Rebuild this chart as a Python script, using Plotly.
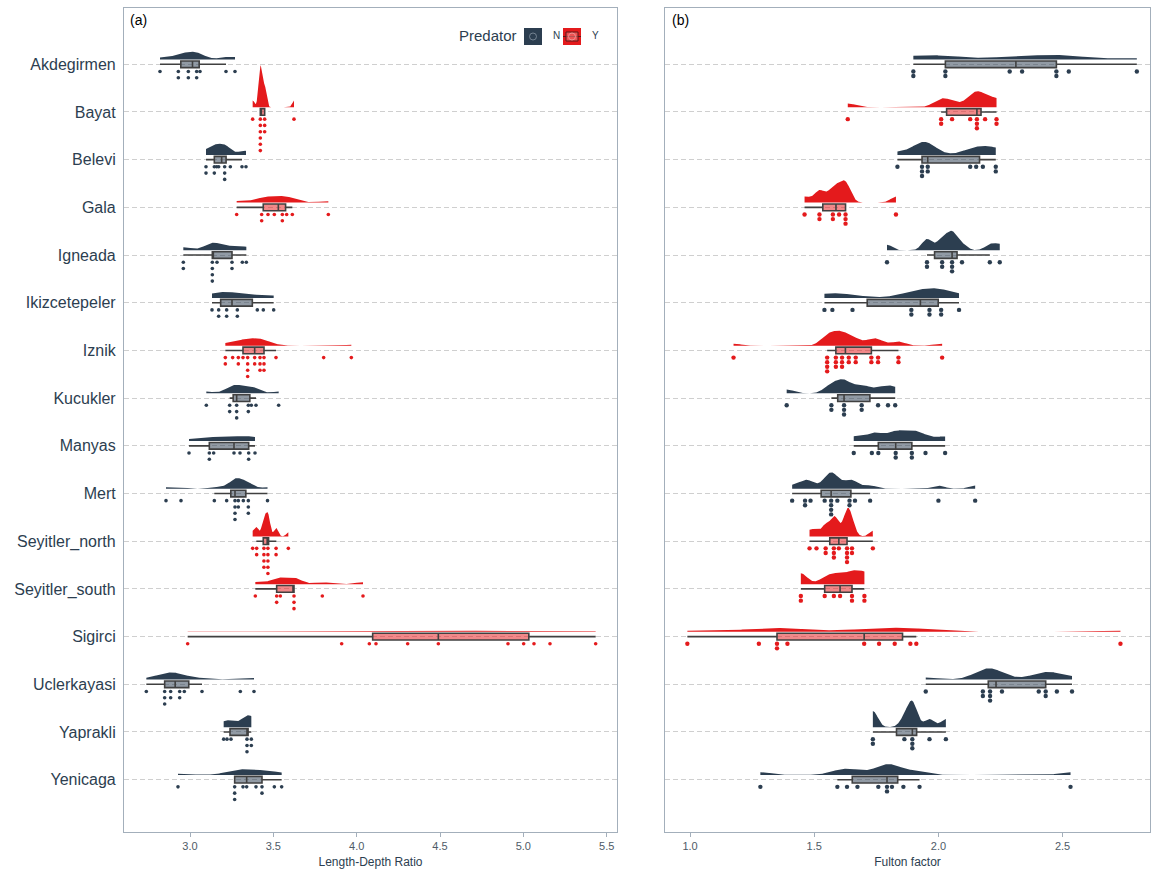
import numpy as np
import plotly.graph_objects as go

# ---------------------------------------------------------------- data
LAKES = ["Akdegirmen", "Bayat", "Belevi", "Gala", "Igneada", "Ikizcetepeler",
         "Iznik", "Kucukler", "Manyas", "Mert", "Seyitler_north",
         "Seyitler_south", "Sigirci", "Uclerkayasi", "Yaprakli", "Yenicaga"]
PREDATOR = ["N", "Y", "N", "Y", "N", "N", "Y", "N", "N", "N", "Y", "Y", "Y",
            "N", "N", "N"]

# Length-depth ratio, one list per lake
LD_AKDEGIRMEN = [2.82, 2.93, 2.93, 2.99, 2.99, 3.04, 3.04, 3.06, 3.216, 3.27]
LD_BAYAT = [3.376, 3.422, 3.422, 3.422, 3.422, 3.422, 3.422, 3.448, 3.448,
            3.448, 3.624]
LD_BELEVI = [3.096, 3.096, 3.146, 3.146, 3.160, 3.172, 3.208, 3.208, 3.208,
             3.242, 3.312, 3.336]
LD_GALA = [3.28, 3.43, 3.43, 3.468, 3.506, 3.554, 3.554, 3.58, 3.614, 3.83]
LD_IGNEADA = [2.96, 2.96, 3.134, 3.134, 3.134, 3.134, 3.162, 3.252, 3.252,
              3.314, 3.338]
LD_IKIZCETEPELER = [3.132, 3.172, 3.172, 3.22, 3.22, 3.284, 3.284, 3.404,
                    3.44, 3.502]
LD_IZNIK = [3.212, 3.212, 3.256, 3.29, 3.29, 3.318, 3.346, 3.346, 3.346,
            3.346, 3.388, 3.388, 3.42, 3.42, 3.42, 3.444, 3.444, 3.444,
            3.516, 3.802, 3.968]
LD_KUCUKLER = [3.098, 3.238, 3.238, 3.28, 3.28, 3.28, 3.35, 3.35, 3.368,
               3.396, 3.532]
LD_MANYAS = [2.994, 3.116, 3.116, 3.142, 3.264, 3.30, 3.352, 3.352, 3.39]
LD_MERT = [2.856, 2.946, 3.146, 3.22, 3.27, 3.27, 3.27, 3.27, 3.29, 3.29,
           3.32, 3.35, 3.35, 3.35, 3.465]
LD_SEYITLER_NORTH = [3.376, 3.398, 3.402, 3.439, 3.440, 3.446, 3.448, 3.463,
                     3.466, 3.469, 3.471, 3.472, 3.515, 3.518, 3.59]
LD_SEYITLER_SOUTH = [3.392, 3.52, 3.52, 3.542, 3.624, 3.624, 3.624, 3.794,
                     4.038]
LD_SIGIRCI = [2.986, 3.91, 4.076, 4.116, 4.306, 4.49, 4.908, 5.002, 5.064,
              5.16, 5.434]
LD_UCLERKAYASI = [2.738, 2.848, 2.848, 2.848, 2.884, 2.884, 2.938, 2.938,
                  2.966, 3.072, 3.302, 3.384]
LD_YAPRAKLI = [3.202, 3.222, 3.246, 3.342, 3.342, 3.342, 3.368, 3.368]
LD_YENICAGA = [2.928, 3.268, 3.268, 3.268, 3.318, 3.34, 3.396, 3.432, 3.432,
               3.506, 3.55]

# Fulton condition factor, one list per lake
FF_AKDEGIRMEN = [1.899, 1.899, 2.028, 2.028, 2.287, 2.337, 2.475, 2.475,
                 2.525, 2.799]
FF_BAYAT = [1.635, 2.011, 2.011, 2.055, 2.128, 2.155, 2.155, 2.155, 2.188,
            2.234, 2.234]
FF_BELEVI = [1.835, 1.934, 1.934, 1.934, 1.957, 1.957, 2.128, 2.152, 2.179,
             2.231, 2.231]
FF_GALA = [1.461, 1.521, 1.521, 1.575, 1.575, 1.600, 1.626, 1.626, 1.626,
           1.829]
FF_IGNEADA = [1.793, 1.954, 1.954, 2.015, 2.015, 2.055, 2.055, 2.055, 2.095,
              2.207, 2.247]
FF_IKIZCETEPELER = [1.541, 1.573, 1.654, 1.891, 1.891, 1.964, 1.964, 2.011,
                    2.011, 2.083]
FF_IZNIK = [1.175, 1.552, 1.552, 1.552, 1.552, 1.587, 1.587, 1.587, 1.612,
            1.612, 1.612, 1.639, 1.639, 1.667, 1.667, 1.730, 1.730, 1.757,
            1.757, 1.839, 1.839, 2.015]
FF_KUCUKLER = [1.389, 1.569, 1.569, 1.62, 1.62, 1.62, 1.691, 1.691, 1.757,
               1.797, 1.826]
FF_MANYAS = [1.659, 1.732, 1.758, 1.828, 1.828, 1.893, 1.893, 1.948, 2.027]
FF_MERT = [1.411, 1.463, 1.463, 1.485, 1.542, 1.568, 1.568, 1.568, 1.568,
           1.593, 1.642, 1.642, 1.664, 1.725, 2.0, 2.148]
FF_SEYITLER_NORTH = [1.481, 1.509, 1.546, 1.546, 1.579, 1.579, 1.579, 1.599,
                     1.632, 1.632, 1.632, 1.632, 1.652, 1.652, 1.736]
FF_SEYITLER_SOUTH = [1.446, 1.446, 1.542, 1.579, 1.604, 1.652, 1.652, 1.702,
                     1.702]
FF_SIGIRCI = [0.989, 1.277, 1.35, 1.35, 1.392, 1.701, 1.761, 1.824, 1.887,
              1.911, 2.733]
FF_UCLERKAYASI = [1.949, 2.179, 2.179, 2.208, 2.208, 2.208, 2.256, 2.404,
                  2.432, 2.432, 2.477, 2.538]
FF_YAPRAKLI = [1.736, 1.736, 1.863, 1.895, 1.895, 1.895, 1.964, 2.03]
FF_YENICAGA = [1.283, 1.593, 1.632, 1.674, 1.758, 1.793, 1.793, 1.813, 1.859,
               1.924, 2.532]

LD_TICKS = [3.0, 3.5, 4.0, 4.5, 5.0, 5.5]
FF_TICKS = [1.0, 1.5, 2.0, 2.5]

LD = [LD_AKDEGIRMEN, LD_BAYAT, LD_BELEVI, LD_GALA, LD_IGNEADA,
      LD_IKIZCETEPELER, LD_IZNIK, LD_KUCUKLER, LD_MANYAS, LD_MERT,
      LD_SEYITLER_NORTH, LD_SEYITLER_SOUTH, LD_SIGIRCI, LD_UCLERKAYASI,
      LD_YAPRAKLI, LD_YENICAGA]
FF = [FF_AKDEGIRMEN, FF_BAYAT, FF_BELEVI, FF_GALA, FF_IGNEADA,
      FF_IKIZCETEPELER, FF_IZNIK, FF_KUCUKLER, FF_MANYAS, FF_MERT,
      FF_SEYITLER_NORTH, FF_SEYITLER_SOUTH, FF_SIGIRCI, FF_UCLERKAYASI,
      FF_YAPRAKLI, FF_YENICAGA]

# ---------------------------------------------------------------- style
W, H = 1157, 874
COL = {"N": "#2c3e50", "Y": "#e41a1c"}
BOX_FILL = {"N": "rgba(44,62,80,0.52)", "Y": "rgba(228,26,28,0.52)"}
FRAME = "#a3afbb"
TEXT = "#2c3e50"
FONT = "Liberation Sans, Arial, sans-serif"

N_LAKES = len(LAKES)
POS = [N_LAKES - i for i in range(N_LAKES)]     # first lake on top


# ---------------------------------------------------------------- helpers
def bw_nrd0(v):
    v = np.asarray(v, float)
    sd = v.std(ddof=1)
    q75, q25 = np.percentile(v, [75, 25])
    lo = min(sd, (q75 - q25) / 1.34)
    if lo <= 0:
        lo = sd
    return 0.9 * lo * len(v) ** -0.2


def kde(v, grid, adjust):
    v = np.asarray(v, float)
    bw = bw_nrd0(v) * adjust
    z = (grid[:, None] - v[None, :]) / bw
    return np.exp(-0.5 * z ** 2).sum(axis=1) / (len(v) * bw * np.sqrt(2 * np.pi))


def dot_bins(v, width):
    """Dot-density style binning: returns bin centres and counts."""
    v = np.sort(np.asarray(v, float))
    centres, counts = [], []
    i = 0
    while i < len(v):
        j = i
        while j < len(v) and v[j] < v[i] + width - 1e-12:
            j += 1
        grp = v[i:j]
        centres.append((grp[0] + grp[-1]) / 2)
        counts.append(len(grp))
        i = j
    return centres, counts


def box_stats(v):
    v = np.asarray(v, float)
    q1, med, q3 = np.percentile(v, [25, 50, 75])
    iqr = q3 - q1
    lo = v[v >= q1 - 1.5 * iqr - 1e-9].min()
    hi = v[v <= q3 + 1.5 * iqr + 1e-9].max()
    return q1, med, q3, lo, hi


def px_y(py):
    return 1 - py / H


def px_x(px):
    return px / W


fig = go.Figure()

PANELS = [
    dict(data=LD, xa="x", ya="y", vmax=0.88, adjust=1.0, binw=0.010,
         stack=0.132, dot=3.6),
    dict(data=FF, xa="x2", ya="y2", vmax=0.60, adjust=0.55, binw=0.012,
         stack=0.096, dot=4.4),
]

VIOLIN_NUDGE = 0.10
DOT_OFFSET = 0.15
BOX_WIDTH = 0.14

for p in PANELS:
    data = p["data"]
    grids, dens = [], []
    for v in data:
        g = np.linspace(min(v), max(v), 500)
        grids.append(g)
        dens.append(kde(v, g, p["adjust"]))
    dmax = max(d.max() for d in dens)
    scale = p["vmax"] / dmax

    # half violins (clouds)
    for i, v in enumerate(data):
        base = POS[i] + VIOLIN_NUDGE
        g, d = grids[i], dens[i]
        xs = np.concatenate([g, g[::-1]])
        ys = np.concatenate([base + d * scale, np.full(len(g), base)])
        fig.add_trace(go.Scatter(
            x=xs, y=ys, mode="lines", fill="toself",
            fillcolor=COL[PREDATOR[i]],
            line=dict(width=0, color=COL[PREDATOR[i]]),
            xaxis=p["xa"], yaxis=p["ya"], hoverinfo="skip", showlegend=False))

    # boxplots
    for i, v in enumerate(data):
        q1, med, q3, lo, hi = box_stats(v)
        fig.add_trace(go.Box(
            orientation="h", y=[POS[i]], q1=[q1], median=[med], q3=[q3],
            lowerfence=[lo], upperfence=[hi], width=BOX_WIDTH,
            whiskerwidth=0, boxpoints=False,
            fillcolor=BOX_FILL[PREDATOR[i]],
            line=dict(color="#404040", width=1.6),
            xaxis=p["xa"], yaxis=p["ya"], hoverinfo="skip",
            showlegend=False))

    # dot stacks (rain)
    for i, v in enumerate(data):
        centres, counts = dot_bins(v, p["binw"])
        dx, dy = [], []
        for c, n in zip(centres, counts):
            for k in range(n):
                dx.append(c)
                dy.append(POS[i] - DOT_OFFSET - k * p["stack"])
        fig.add_trace(go.Scatter(
            x=dx, y=dy, mode="markers",
            marker=dict(size=p["dot"], color=COL[PREDATOR[i]],
                        line=dict(width=0)),
            xaxis=p["xa"], yaxis=p["ya"], hoverinfo="skip", showlegend=False))

# ---------------------------------------------------------------- axes
Y_RANGE = [-0.097, 17.18]
y_dom = [px_y(832), px_y(8)]

common_x = dict(showgrid=False, zeroline=False, showline=True, mirror=True,
                linecolor=FRAME, linewidth=1.2, ticks="outside", ticklen=4,
                tickcolor=FRAME, tickfont=dict(family=FONT, size=11,
                                               color="#4f5b67"),
                automargin=False)
common_y = dict(range=Y_RANGE, tickvals=POS, zeroline=False, showline=True,
                mirror=True, linecolor=FRAME, linewidth=1.2, showgrid=True,
                gridcolor="#cfcfcf", gridwidth=1, griddash="5px,3px",
                ticks="", automargin=False, domain=y_dom)

fig.update_layout(
    width=W, height=H, margin=dict(l=0, r=0, t=0, b=0),
    paper_bgcolor="white", plot_bgcolor="white", boxmode="overlay",
    font=dict(family=FONT, color=TEXT),
    xaxis=dict(common_x, domain=[px_x(124), px_x(617)],
               range=[2.604, 5.562], anchor="y", tickvals=LD_TICKS,
               ticktext=[f"{t:.1f}" for t in LD_TICKS],
               title=dict(text="Length-Depth Ratio", standoff=6,
                          font=dict(family=FONT, size=12, color=TEXT))),
    yaxis=dict(common_y, anchor="x", ticktext=LAKES, showticklabels=True,
               tickfont=dict(family=FONT, size=16, color=TEXT),
               ticklabelstandoff=4),
    xaxis2=dict(common_x, domain=[px_x(665), px_x(1150)],
                range=[0.899, 2.852], anchor="y2", tickvals=FF_TICKS,
                ticktext=[f"{t:.1f}" for t in FF_TICKS],
                title=dict(text="Fulton factor", standoff=6,
                           font=dict(family=FONT, size=12, color=TEXT))),
    yaxis2=dict(common_y, anchor="x2", showticklabels=False),
)

# ---------------------------------------------------------------- panel tags
for tag, px in (("(a)", 128), ("(b)", 670)):
    fig.add_annotation(x=px_x(px), y=px_y(20), xref="paper", yref="paper",
                       text=tag, showarrow=False, xanchor="left",
                       yanchor="middle",
                       font=dict(family=FONT, size=14, color="black"))

# ---------------------------------------------------------------- legend
fig.add_annotation(x=px_x(457), y=px_y(35), xref="paper", yref="paper",
                   text="Predator", showarrow=False, xanchor="left",
                   yanchor="middle", font=dict(family=FONT, size=15,
                                               color=TEXT))
for lab, kx, tx in (("N", 524, 551), ("Y", 563, 590)):
    c = COL[lab]
    fig.add_shape(type="rect", xref="paper", yref="paper",
                  x0=px_x(kx), x1=px_x(kx + 18), y0=px_y(45), y1=px_y(28),
                  fillcolor=c, line=dict(width=0))
    if lab == "Y":
        fig.add_shape(type="line", xref="paper", yref="paper",
                      x0=px_x(kx), x1=px_x(kx + 18), y0=px_y(36.5),
                      y1=px_y(36.5), line=dict(color="#5a1a1a", width=1))
        fig.add_shape(type="rect", xref="paper", yref="paper",
                      x0=px_x(kx + 3), x1=px_x(kx + 15), y0=px_y(41),
                      y1=px_y(32), fillcolor="rgba(240,120,120,0.6)",
                      line=dict(color="#5a1a1a", width=1))
    fig.add_shape(type="circle", xref="paper", yref="paper",
                  x0=px_x(kx + 5.5), x1=px_x(kx + 12.5), y0=px_y(40),
                  y1=px_y(33), line=dict(color="#8593a1" if lab == "N"
                                         else "#f3a0a0", width=0.8))
    fig.add_annotation(x=px_x(tx), y=px_y(35), xref="paper", yref="paper",
                       text=lab, showarrow=False, xanchor="left",
                       yanchor="middle", font=dict(family=FONT, size=10,
                                                   color=TEXT))

fig.write_html("out.html")
